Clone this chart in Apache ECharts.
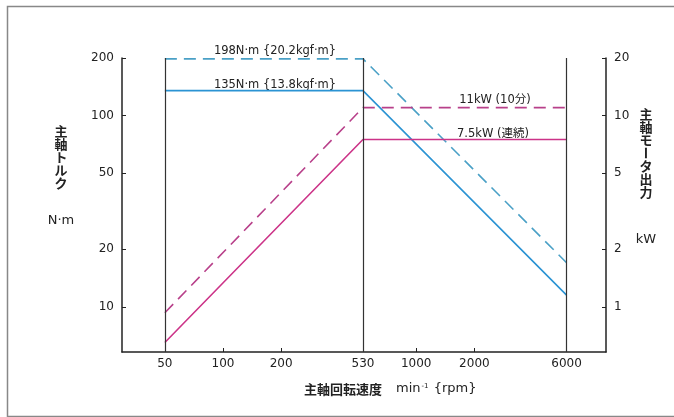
<!DOCTYPE html>
<html>
<head>
<meta charset="utf-8">
<script src="https://cdn.jsdelivr.net/npm/echarts@6/dist/echarts.min.js"></script>
<style>
html,body{margin:0;padding:0;background:#fff;}
#c{width:674px;height:417px;}
</style>
</head>
<body>
<div id="c"></div>
<script>
// ---- data ----
const speedTicks = [50, 100, 200, 530, 1000, 2000, 6000];
const speedMinorTicks = [100, 200, 1000, 2000];
const speedGuides = [50, 530, 6000];
const torqueTicks = [10, 20, 50, 100, 200];
const powerTicks = [1, 2, 5, 10, 20];

const speedPoints = [50, 530, 6000];
const torqueContinuous = [135, 135, 11.5];   // N·m
const torquePeak = [198, 198, 17];           // N·m
const powerContinuous = [0.65, 7.5, 7.5];    // kW
const powerPeak = [0.93, 11, 11];            // kW

const pair = (xs, ys) => xs.map((x, i) => [x, ys[i]]);

const FONT = 'DejaVu Sans';
const CJK = 'Noto Sans CJK JP';
const TXT = '#222';
const plain = v => String(v);

const chart = echarts.init(document.getElementById('c'), null, {renderer: 'canvas'});

chart.setOption({
  backgroundColor: '#fff',
  animation: false,
  grid: {left: 122, right: 68, top: 58, bottom: 65},
  xAxis: {
    type: 'log', logBase: 10, min: 30, max: 9600,
    axisLine: {show: true, lineStyle: {color: '#222', width: 1.5}},
    axisTick: {show: true, inside: true, length: 4, customValues: speedMinorTicks, lineStyle: {color: '#222'}},
    axisLabel: {customValues: speedTicks, formatter: plain, color: TXT, fontFamily: FONT, fontSize: 12, margin: 6},
    splitLine: {show: false}, minorTick: {show: false}
  },
  yAxis: [
    {
      type: 'log', logBase: 10, min: 5.8, max: 200, position: 'left',
      axisLine: {show: true, lineStyle: {color: '#222', width: 1.5}},
      axisTick: {show: true, inside: true, length: 4, customValues: torqueTicks, lineStyle: {color: '#222'}},
      axisLabel: {customValues: torqueTicks, formatter: plain, color: TXT, fontFamily: FONT, fontSize: 12, margin: 8},
      splitLine: {show: false}
    },
    {
      type: 'log', logBase: 10, min: 0.58, max: 20, position: 'right',
      axisLine: {show: true, lineStyle: {color: '#222', width: 1.5}},
      axisTick: {show: true, inside: true, length: 4, customValues: powerTicks, lineStyle: {color: '#222'}},
      axisLabel: {customValues: powerTicks, formatter: plain, color: TXT, fontFamily: FONT, fontSize: 12, margin: 8},
      splitLine: {show: false}
    }
  ],
  series: [
    {
      type: 'line', yAxisIndex: 0, data: pair(speedPoints, torqueContinuous),
      symbol: 'none', lineStyle: {color: '#2b93d3', width: 1.6}, z: 3,
      markLine: {
        silent: true, symbol: 'none', label: {show: false},
        lineStyle: {color: '#333', width: 1.2, type: 'solid'},
        data: speedGuides.map(v => ({xAxis: v}))
      }
    },
    {
      type: 'line', yAxisIndex: 0, data: pair(speedPoints, torquePeak),
      symbol: 'none', lineStyle: {color: '#4aa0c6', width: 1.6, type: [12, 7]}, z: 3
    },
    {
      type: 'line', yAxisIndex: 1, data: pair(speedPoints, powerContinuous),
      symbol: 'none', lineStyle: {color: '#cc3388', width: 1.6}, z: 3
    },
    {
      type: 'line', yAxisIndex: 1, data: pair(speedPoints, powerPeak),
      symbol: 'none', lineStyle: {color: '#b8408a', width: 1.6, type: [12, 7]}, z: 3
    }
  ],
  graphic: [
    {type: 'rect', left: 5, top: 4, shape: {x: 0, y: 0, width: 680, height: 410}, style: {fill: 'none', stroke: '#888', lineWidth: 1.5}, silent: true},
    // annotations
    {type: 'text', x: 275, y: 51, style: {text: '198N·m {20.2kgf·m}', font: '11.5px "' + FONT + '"', fill: TXT, align: 'center', verticalAlign: 'middle'}},
    {type: 'text', x: 275, y: 85, style: {text: '135N·m {13.8kgf·m}', font: '11.5px "' + FONT + '"', fill: TXT, align: 'center', verticalAlign: 'middle'}},
    {type: 'text', x: 495, y: 100, style: {text: '11kW (10分)', font: '11.5px "' + FONT + '", "' + CJK + '"', fill: TXT, align: 'center', verticalAlign: 'middle'}},
    {type: 'text', x: 493, y: 134, style: {text: '7.5kW (連続)', font: '11.5px "' + FONT + '", "' + CJK + '"', fill: TXT, align: 'center', verticalAlign: 'middle'}},
    // left axis name
    {type: 'text', x: 61, y: 157, style: {text: '主\n軸\nト\nル\nク', font: 'bold 13px "' + CJK + '"', lineHeight: 13, fill: '#222', align: 'center', verticalAlign: 'middle'}},
    {type: 'text', x: 61, y: 221, style: {text: 'N·m', font: '13px "' + FONT + '"', fill: '#222', align: 'center', verticalAlign: 'middle'}},
    // right axis name
    {type: 'text', x: 646, y: 127, style: {text: '主\n軸\nモ', font: 'bold 13px "' + CJK + '"', lineHeight: 13, fill: '#222', align: 'center', verticalAlign: 'middle'}},
    {type: 'text', x: 646, y: 153, rotation: -Math.PI / 2, style: {text: 'ー', font: 'bold 13px "' + CJK + '"', fill: '#222', align: 'center', verticalAlign: 'middle'}},
    {type: 'text', x: 646, y: 179, style: {text: 'タ\n出\n力', font: 'bold 13px "' + CJK + '"', lineHeight: 13, fill: '#222', align: 'center', verticalAlign: 'middle'}},
    {type: 'text', x: 646, y: 240, style: {text: 'kW', font: '13px "' + FONT + '"', fill: '#222', align: 'center', verticalAlign: 'middle'}},
    // x axis name
    {type: 'text', x: 343, y: 389, style: {text: '主軸回転速度', font: 'bold 13px "' + CJK + '"', fill: '#222', align: 'center', verticalAlign: 'middle'}},
    {type: 'text', x: 396, y: 389, style: {
      text: '{a|min}{s|-1}{a| }{rpm}',
      font: '13px "' + FONT + '"', fill: '#222', verticalAlign: 'middle',
      rich: {
        a: {fontFamily: FONT, fontSize: 13, fill: '#222', color: '#222'},
        s: {fontFamily: FONT, fontSize: 7, fill: '#222', color: '#222', verticalAlign: 'top', padding: [0, 1, 6, 1]}
      }
    }}
  ]
});
</script>
</body>
</html>
